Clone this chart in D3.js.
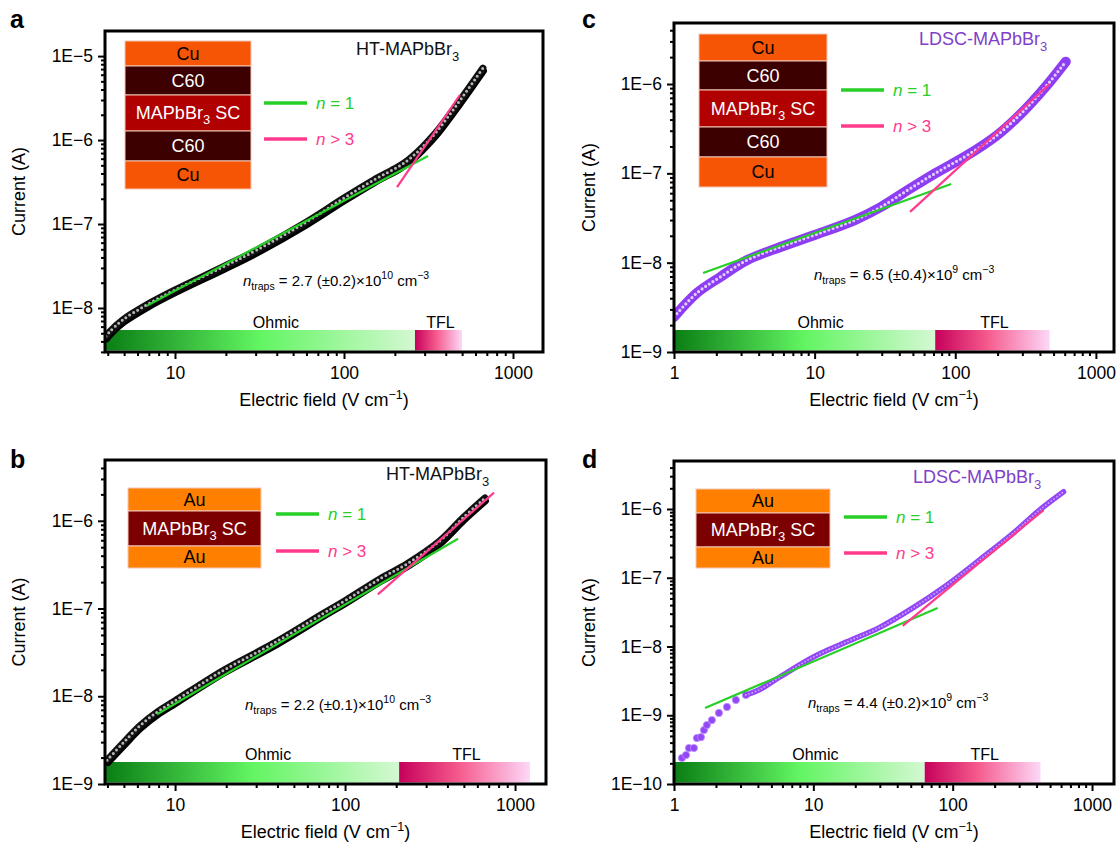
<!DOCTYPE html>
<html>
<head>
<meta charset="utf-8">
<script src="https://cdn.jsdelivr.net/npm/d3@7"></script>
<style>
body { margin: 0; background: #fff; }
svg { font-family: "Liberation Sans", Arial, Helvetica, sans-serif; }
</style>
</head>
<body>
<div id="fig"></div>
<script>
// tick values
var xTicksHT = [10, 100, 1000];
var xTicksLD = [1, 10, 100, 1000];
var yTicksA = [1e-8, 1e-7, 1e-6, 1e-5];
var yTicksB = [1e-9, 1e-8, 1e-7, 1e-6];
var yTicksC = [1e-9, 1e-8, 1e-7, 1e-6];
var yTicksD = [1e-10, 1e-9, 1e-8, 1e-7, 1e-6];

// I-E curves, [field (V/cm), current (A)]
var htCu = [[3.9, 4.6e-9], [4.1, 5.2e-9], [4.9, 7.2e-9], [6.8, 1.09e-8], [10, 1.64e-8], [19.2, 3.08e-8],
    [30.5, 4.9e-8], [60, 1.06e-7], [100, 2.04e-7], [150, 3.34e-7], [209, 4.8e-7], [240, 5.8e-7],
    [274, 7.3e-7], [310, 9.4e-7], [360, 1.32e-6], [473, 2.75e-6], [664, 7.2e-6]];
var ldscCu = [[1.0, 2.47e-9], [1.46, 4.6e-9], [2.13, 6.9e-9], [3.32, 1.07e-8], [5.72, 1.5e-8], [10, 2.04e-8],
    [19.3, 3.0e-8], [29.6, 4.2e-8], [46, 6.5e-8], [72, 1.0e-7], [118, 1.55e-7], [160, 2.1e-7],
    [203, 2.75e-7], [270, 4.1e-7], [349, 6.2e-7], [461, 1.02e-6], [611, 1.78e-6]];
var htAu = [[3.98, 1.87e-9], [4.94, 2.92e-9], [6.2, 4.6e-9], [7.84, 6.6e-9], [10, 8.9e-9], [19.2, 1.97e-8],
    [37.7, 3.98e-8], [74.3, 8.77e-8], [100, 1.23e-7], [161, 2.19e-7], [232, 3.24e-7], [362, 5.93e-7],
    [494, 1.08e-6], [666, 1.82e-6]];
var ldscAuLow = [[1.14, 2.39e-10], [1.22, 2.64e-10], [1.28, 3.34e-10], [1.39, 3.34e-10], [1.46, 4.67e-10],
    [1.56, 4.8e-10], [1.64, 6.1e-10], [1.72, 7.2e-10], [1.87, 8.5e-10], [2.10, 1.08e-9], [2.40, 1.32e-9],
    [2.78, 1.67e-9], [3.28, 1.97e-9]];
var ldscAu = [[3.28, 1.97e-9], [4.06, 2.33e-9], [5.75, 3.6e-9], [10.1, 7.1e-9], [17.4, 1.17e-8], [30, 1.9e-8],
    [52.5, 3.7e-8], [90.6, 7.8e-8], [156, 1.82e-7], [274, 4.5e-7], [424, 9.8e-7], [625, 1.78e-6]];

// fitted lines (n = 1 and n > 3)
var fitOhmA = [[6.8, 1.06e-8], [314, 6.46e-7]];
var fitTflA = [[206, 2.75e-7], [485, 3.44e-6]];
var fitOhmC = [[1.61, 7.67e-9], [93.6, 7.6e-8]];
var fitTflC = [[47.7, 3.7e-8], [469, 1.0e-6]];
var fitOhmB = [[7.84, 6.24e-9], [462, 6.24e-7]];
var fitTflB = [[156, 1.45e-7], [752, 2.09e-6]];
var fitOhmD = [[1.67, 1.27e-9], [78, 3.63e-8]];
var fitTflD = [[43.8, 2.0e-8], [449, 9.66e-7]];

// regime bars: [start, ohmic end, TFL end] in V/cm
var regimeA = [3.85, 263, 499];
var regimeB = [3.87, 208, 1224];
var regimeC = [1, 72, 469];
var regimeD = [1, 63, 427];

// device stacks
var cuStack = ["Cu", "C60", "MAPbBr3 SC", "C60", "Cu"];
var cuColors = ["#f55505", "#3c0000", "#b00000", "#3c0000", "#f55505"];
var cuText = ["#000", "#fff", "#fff", "#fff", "#000"];
var auStack = ["Au", "MAPbBr3 SC", "Au"];
var auColors = ["#ff8000", "#7d0000", "#ff8000"];
var auText = ["#000", "#fff", "#000"];

// trap densities
var trapsA = ["2.7 (±0.2)", "10"];
var trapsB = ["2.2 (±0.1)", "10"];
var trapsC = ["6.5 (±0.4)", "9"];
var trapsD = ["4.4 (±0.2)", "9"];

var green = "#27cf27", pink = "#ff3a8c";

var panels = [
    {id: "a", box: [105, 31, 543, 352], xDom: [3.853, 1505], yDom: [2.99e-9, 1.99e-5],
        xTicks: xTicksHT, yTicks: yTicksA, data: htCu, kind: "ht", ohm: fitOhmA, tfl: fitTflA, regime: regimeA,
        stack: cuStack, colors: cuColors, tcol: cuText, inset: {x: 125, y: 41, w: 126, h: [25, 29, 36, 30, 28]},
        leg: {x: 264, y: [103, 139]}, title: {x: 356, y: 55, t: "HT-MAPbBr", c: "#111"},
        traps: {x: 243, y: 286, v: trapsA}, letter: {x: 10, y: 28}, ylabX: 19},
    {id: "c", box: [674, 23, 1114, 352], xDom: [1, 1345], yDom: [1e-9, 4.82e-6],
        xTicks: xTicksLD, yTicks: yTicksC, data: ldscCu, kind: "ldc", ohm: fitOhmC, tfl: fitTflC, regime: regimeC,
        stack: cuStack, colors: cuColors, tcol: cuText, inset: {x: 699, y: 34, w: 128, h: [27, 29, 37, 30, 30]},
        leg: {x: 841, y: [90, 126]}, title: {x: 919, y: 45, t: "LDSC-MAPbBr", c: "#8040c8"},
        traps: {x: 814, y: 280, v: trapsC}, letter: {x: 582, y: 28}, ylabX: 589},
    {id: "b", box: [105, 460, 546, 784], xDom: [3.87, 1521], yDom: [1e-9, 4.93e-6],
        xTicks: xTicksHT, yTicks: yTicksB, data: htAu, kind: "ht", ohm: fitOhmB, tfl: fitTflB, regime: regimeB,
        stack: auStack, colors: auColors, tcol: auText, inset: {x: 128, y: 488, w: 133, h: [23, 35, 22]},
        leg: {x: 276, y: [514, 551]}, title: {x: 386, y: 480, t: "HT-MAPbBr", c: "#111"},
        traps: {x: 245, y: 710, v: trapsB}, letter: {x: 10, y: 468}, ylabX: 19},
    {id: "d", box: [674, 461, 1114, 784], xDom: [1, 1438], yDom: [1e-10, 4.99e-6],
        xTicks: xTicksLD, yTicks: yTicksD, data: ldscAu, low: ldscAuLow, kind: "ldd", ohm: fitOhmD, tfl: fitTflD,
        regime: regimeD, stack: auStack, colors: auColors, tcol: auText,
        inset: {x: 696, y: 489, w: 134, h: [24, 34, 21]},
        leg: {x: 844, y: [517, 553]}, title: {x: 913, y: 483, t: "LDSC-MAPbBr", c: "#8040c8"},
        traps: {x: 808, y: 708, v: trapsD}, letter: {x: 582, y: 468}, ylabX: 589}
];

var svg = d3.select("#fig").append("svg")
    .attr("width", 1118)
    .attr("height", 843);

var defs = svg.append("defs");
var gOhm = defs.append("linearGradient").attr("id", "gOhm");
gOhm.append("stop").attr("offset", "0").attr("stop-color", "#0a7d14");
gOhm.append("stop").attr("offset", "0.5").attr("stop-color", "#62f562");
gOhm.append("stop").attr("offset", "1").attr("stop-color", "#d4f8d2");
var gTfl = defs.append("linearGradient").attr("id", "gTfl");
gTfl.append("stop").attr("offset", "0").attr("stop-color", "#c6005a");
gTfl.append("stop").attr("offset", "0.45").attr("stop-color", "#f5598c");
gTfl.append("stop").attr("offset", "1").attr("stop-color", "#fdd8f8");

function minors(dom) {
    var out = [];
    for (var e = Math.floor(Math.log10(dom[0])); e <= Math.ceil(Math.log10(dom[1])); e++) {
        for (var k = 2; k <= 9; k++) {
            var v = k * Math.pow(10, e);
            if (v > dom[0] && v < dom[1]) out.push(v);
        }
    }
    return out;
}

panels.forEach(function (p) {
    var L = p.box[0], T = p.box[1], R = p.box[2], B = p.box[3];
    var x = d3.scaleLog().domain(p.xDom).range([L, R]);
    var y = d3.scaleLog().domain(p.yDom).range([B, T]);
    var g = svg.append("g");

    defs.append("clipPath").attr("id", "clip" + p.id)
        .append("rect").attr("x", L).attr("y", T).attr("width", R - L).attr("height", B - T);

    // regime bars
    var barTop = B - 22, barH = 20.5;
    g.append("rect").attr("x", x(p.regime[0])).attr("y", barTop)
        .attr("width", x(p.regime[1]) - x(p.regime[0])).attr("height", barH)
        .attr("fill", "url(#gOhm)");
    g.append("rect").attr("x", x(p.regime[1])).attr("y", barTop)
        .attr("width", x(p.regime[2]) - x(p.regime[1])).attr("height", barH)
        .attr("fill", "url(#gTfl)");
    g.append("text").attr("x", (x(p.regime[0]) + x(p.regime[1])) / 2 + 16).attr("y", barTop - 2)
        .attr("text-anchor", "middle").attr("font-size", 16).text("Ohmic");
    g.append("text").attr("x", (x(p.regime[1]) + x(p.regime[2])) / 2 + 2).attr("y", barTop - 2)
        .attr("text-anchor", "middle").attr("font-size", 16).text("TFL");

    // data
    var line = d3.line()
        .x(function (d) { return x(d[0]); })
        .y(function (d) { return y(d[1]); })
        .curve(d3.curveCatmullRom);
    var dg = g.append("g").attr("clip-path", "url(#clip" + p.id + ")");
    if (p.kind === "ht") {
        dg.append("path").datum(p.data).attr("d", line).attr("transform", "translate(1,3)")
            .attr("fill", "none").attr("stroke", "#000").attr("stroke-width", 6).attr("stroke-linecap", "round");
        dg.append("path").datum(p.data).attr("d", line)
            .attr("fill", "none").attr("stroke", "#111").attr("stroke-width", 7).attr("stroke-linecap", "round");
        dg.append("path").datum(p.data).attr("d", line)
            .attr("fill", "none").attr("stroke", "#b8b8b8").attr("stroke-width", 3)
            .attr("stroke-dasharray", "0 4.6").attr("stroke-linecap", "round");
    } else if (p.kind === "ldc") {
        dg.append("path").datum(p.data).attr("d", line)
            .attr("fill", "none").attr("stroke", "#8d3df2").attr("stroke-width", 10).attr("stroke-linecap", "round");
        dg.append("path").datum(p.data).attr("d", line)
            .attr("fill", "none").attr("stroke", "#e2cdff").attr("stroke-width", 3.2)
            .attr("stroke-dasharray", "0 4.4").attr("stroke-linecap", "round");
    } else {
        dg.selectAll("circle.low").data(p.low).enter().append("circle")
            .attr("class", "low")
            .attr("cx", function (d) { return x(d[0]); })
            .attr("cy", function (d) { return y(d[1]); })
            .attr("r", 3.6).attr("fill", "#9447f5").attr("stroke", "#b98aff").attr("stroke-width", 0.8);
        dg.append("path").datum(p.data).attr("d", line)
            .attr("fill", "none").attr("stroke", "#9447f5").attr("stroke-width", 5.5).attr("stroke-linecap", "round");
        dg.append("path").datum(p.data).attr("d", line)
            .attr("fill", "none").attr("stroke", "#c9a6ff").attr("stroke-width", 1.8)
            .attr("stroke-dasharray", "0 3.4").attr("stroke-linecap", "round");
    }

    // fit lines
    var fit = d3.line().x(function (d) { return x(d[0]); }).y(function (d) { return y(d[1]); });
    g.append("path").datum(p.ohm).attr("d", fit).attr("fill", "none")
        .attr("stroke", green).attr("stroke-width", 2.2);
    g.append("path").datum(p.tfl).attr("d", fit).attr("fill", "none")
        .attr("stroke", pink).attr("stroke-width", 2.2);

    // frame
    g.append("rect").attr("x", L).attr("y", T).attr("width", R - L).attr("height", B - T)
        .attr("fill", "none").attr("stroke", "#000").attr("stroke-width", 3);

    // axes
    var xAxis = d3.axisBottom(x).tickValues(p.xTicks).tickFormat(d3.format("d"))
        .tickSizeInner(7).tickSizeOuter(0).tickPadding(8);
    var gx = g.append("g").attr("transform", "translate(0," + B + ")").call(xAxis);
    var gxm = g.append("g").attr("transform", "translate(0," + B + ")")
        .call(d3.axisBottom(x).tickValues(minors(p.xDom)).tickFormat("").tickSizeInner(4).tickSizeOuter(0));
    var yAxis = d3.axisLeft(y).tickValues(p.yTicks)
        .tickFormat(function (d) { return "1E\u2212" + Math.round(-Math.log10(d)); })
        .tickSizeInner(7).tickSizeOuter(0).tickPadding(5);
    var gy = g.append("g").attr("transform", "translate(" + L + ",0)").call(yAxis);
    var gym = g.append("g").attr("transform", "translate(" + L + ",0)")
        .call(d3.axisLeft(y).tickValues(minors(p.yDom)).tickFormat("").tickSizeInner(4).tickSizeOuter(0));
    [gx, gxm, gy, gym].forEach(function (a) {
        a.select(".domain").remove();
        a.selectAll("line").attr("stroke", "#000").attr("stroke-width", 2);
        a.selectAll("text").attr("font-size", 17.5).attr("fill", "#000")
            .attr("font-family", "Liberation Sans, Arial, sans-serif");
    });

    // axis titles
    g.append("text").attr("transform", "translate(" + p.ylabX + "," + ((T + B) / 2) + ") rotate(-90)")
        .attr("text-anchor", "middle").attr("dy", "0.35em").attr("font-size", 18).text("Current (A)");
    var xt = g.append("text").attr("x", (L + R) / 2).attr("y", B + 54)
        .attr("text-anchor", "middle").attr("font-size", 18);
    xt.append("tspan").text("Electric field (V cm");
    xt.append("tspan").attr("dy", -7).attr("font-size", 12.5).text("\u22121");
    xt.append("tspan").attr("dy", 7).text(")");

    // panel letter
    g.append("text").attr("x", p.letter.x).attr("y", p.letter.y)
        .attr("font-size", 25).attr("font-weight", "bold").text(p.id);

    // sample title
    var tt = g.append("text").attr("x", p.title.x).attr("y", p.title.y)
        .attr("font-size", 18).attr("fill", p.title.c);
    tt.append("tspan").text(p.title.t);
    tt.append("tspan").attr("dy", 6).attr("font-size", 13).text("3");

    // device stack
    var yy = p.inset.y;
    p.stack.forEach(function (s, i) {
        var h = p.inset.h[i];
        g.append("rect").attr("x", p.inset.x).attr("y", yy).attr("width", p.inset.w).attr("height", h)
            .attr("fill", p.colors[i]).attr("stroke", "#f4c6b6").attr("stroke-width", 1);
        var t = g.append("text").attr("x", p.inset.x + p.inset.w / 2).attr("y", yy + h / 2 + 6)
            .attr("text-anchor", "middle").attr("font-size", 18).attr("fill", p.tcol[i]);
        if (s === "MAPbBr3 SC") {
            t.append("tspan").text("MAPbBr");
            t.append("tspan").attr("dy", 5).attr("font-size", 13).text("3");
            t.append("tspan").attr("dy", -5).text(" SC");
        } else {
            t.text(s);
        }
        yy += h;
    });

    // legend
    [[green, "= 1"], [pink, "> 3"]].forEach(function (l, i) {
        g.append("line").attr("x1", p.leg.x).attr("x2", p.leg.x + 43)
            .attr("y1", p.leg.y[i]).attr("y2", p.leg.y[i])
            .attr("stroke", l[0]).attr("stroke-width", 3.5);
        var lt = g.append("text").attr("x", p.leg.x + 52).attr("y", p.leg.y[i] + 6)
            .attr("font-size", 17).attr("fill", l[0]);
        lt.append("tspan").attr("font-style", "italic").text("n");
        lt.append("tspan").text(" " + l[1]);
    });

    // trap density
    var nt = g.append("text").attr("x", p.traps.x).attr("y", p.traps.y).attr("font-size", 15);
    nt.append("tspan").attr("font-style", "italic").text("n");
    nt.append("tspan").attr("dy", 4).attr("font-size", 10.5).text("traps");
    nt.append("tspan").attr("dy", -4).text(" = " + p.traps.v[0] + "\u00d710");
    nt.append("tspan").attr("dy", -7).attr("font-size", 10.5).text(p.traps.v[1]);
    nt.append("tspan").attr("dy", 7).text(" cm");
    nt.append("tspan").attr("dy", -7).attr("font-size", 10.5).text("\u22123");
});
</script>
</body>
</html>
